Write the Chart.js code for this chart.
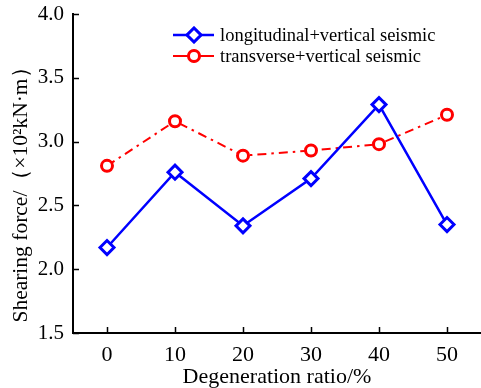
<!DOCTYPE html>
<html>
<head>
<meta charset="utf-8">
<script src="https://cdn.jsdelivr.net/npm/chart.js@4/dist/chart.umd.min.js"></script>
<style>
  html, body { margin: 0; padding: 0; background: #fff; }
  #wrap { width: 481px; height: 388px; }
</style>
</head>
<body>
<div id="wrap"><canvas id="canvas-1" width="481" height="388"></canvas></div>
<script>
var ratios = ['0', '10', '20', '30', '40', '50'];
var longitudinal = [2.17, 2.76, 2.34, 2.71, 3.29, 2.35];
var transverse = [2.81, 3.16, 2.89, 2.93, 2.98, 3.21];
var yTicks = [1.5, 2.0, 2.5, 3.0, 3.5, 4.0];
var yTitle = 'Shearing force/（×10²kN·m）';

var serif = 'Liberation Serif';

// short tick marks pointing into the plot
var inwardTicks = {
    id: 'inwardTicks',
    afterDraw: function (chart) {
        var ctx = chart.ctx;
        var x = chart.scales.x, y = chart.scales.y;
        ctx.save();
        ctx.strokeStyle = '#000';
        ctx.lineWidth = 1.5;
        ctx.beginPath();
        for (var i = 0; i < ratios.length; i++) {
            var px = Math.round(x.getPixelForValue(i)) + 0.5;
            ctx.moveTo(px, y.bottom);
            ctx.lineTo(px, y.bottom - 6);
        }
        for (var j = 0; j < yTicks.length; j++) {
            var py = Math.round(y.getPixelForValue(yTicks[j])) + 0.5;
            ctx.moveTo(x.left, py);
            ctx.lineTo(x.left + 6, py);
        }
        ctx.stroke();
        ctx.restore();
    }
};

// y axis title, rotated, sitting a bit below the axis centre
var yAxisTitle = {
    id: 'yAxisTitle',
    afterDraw: function (chart) {
        var ctx = chart.ctx;
        var y = chart.scales.y;
        ctx.save();
        ctx.translate(21, (y.top + y.bottom) / 2 + 16);
        ctx.rotate(-Math.PI / 2);
        ctx.fillStyle = '#000';
        ctx.font = '21.5px "' + serif + '"';
        ctx.textAlign = 'center';
        ctx.textBaseline = 'middle';
        ctx.fillText(yTitle, 0, 0);
        ctx.restore();
    }
};

// legend drawn as line + marker + label
var lineLegend = {
    id: 'lineLegend',
    afterDraw: function (chart) {
        var ctx = chart.ctx;
        ctx.save();
        chart.data.datasets.forEach(function (ds, i) {
            var yy = 35 + i * 21;
            ctx.strokeStyle = ds.borderColor;
            ctx.lineWidth = ds.borderWidth;
            ctx.setLineDash([]);
            ctx.beginPath();
            ctx.moveTo(173, yy);
            ctx.lineTo(214, yy);
            ctx.stroke();
            Chart.helpers.drawPoint(ctx, {
                pointStyle: ds.pointStyle,
                radius: ds.pointRadius,
                borderWidth: ds.pointBorderWidth,
                rotation: 0
            }, 194, yy);
            ctx.fillStyle = ds.pointBackgroundColor;
            ctx.strokeStyle = ds.pointBorderColor;
            ctx.lineWidth = ds.pointBorderWidth;
            ctx.fill();
            ctx.stroke();
            ctx.fillStyle = '#000';
            ctx.font = '18.5px "' + serif + '"';
            ctx.textBaseline = 'middle';
            ctx.fillText(ds.label, 220, yy + 1);
        });
        ctx.restore();
    }
};

var ctx = document.getElementById('canvas-1');
var chart = new Chart(ctx, {
    type: 'line',
    data: {
        labels: ratios,
        datasets: [
            {
                label: 'longitudinal+vertical seismic',
                data: longitudinal,
                borderColor: '#0000ff',
                borderWidth: 2.5,
                pointStyle: 'rectRot',
                pointRadius: 7,
                pointBorderWidth: 3,
                pointBorderColor: '#0000ff',
                pointBackgroundColor: '#fff',
                tension: 0
            },
            {
                label: 'transverse+vertical seismic',
                data: transverse,
                borderColor: '#ff0000',
                borderWidth: 2,
                borderDash: [9, 5, 2.5, 5],
                pointStyle: 'circle',
                pointRadius: 5.5,
                pointBorderWidth: 3,
                pointBorderColor: '#ff0000',
                pointBackgroundColor: '#fff',
                tension: 0
            }
        ]
    },
    options: {
        responsive: false,
        animation: false,
        layout: {
            autoPadding: false,
            padding: { top: 14, right: 0, left: 0, bottom: 0 }
        },
        plugins: {
            legend: { display: false },
            tooltip: { enabled: false }
        },
        scales: {
            x: {
                type: 'category',
                offset: true,
                grid: { display: false, drawTicks: false },
                border: { display: true, color: '#000', width: 2 },
                ticks: {
                    color: '#000',
                    padding: 9,
                    font: { family: serif, size: 22 },
                    maxRotation: 0
                },
                title: {
                    display: true,
                    text: 'Degeneration ratio/%',
                    color: '#000',
                    font: { family: serif, size: 22, lineHeight: 1.0 },
                    padding: { top: 0, bottom: 0 }
                },
                afterFit: function (s) {
                    s.height = 55;
                    s.paddingLeft = 0;
                    s.paddingRight = 0;
                }
            },
            y: {
                min: 1.5,
                max: 4.0,
                grid: { display: false, drawTicks: false },
                border: { display: true, color: '#000', width: 2 },
                ticks: {
                    color: '#000',
                    padding: 9,
                    stepSize: 0.5,
                    font: { family: serif, size: 21 },
                    callback: function (v) { return v.toFixed(1); }
                },
                title: { display: false },
                afterFit: function (s) {
                    s.width = 73;
                    s.paddingTop = 0;
                    s.paddingBottom = 0;
                }
            }
        }
    },
    plugins: [inwardTicks, yAxisTitle, lineLegend]
});
</script>
</body>
</html>
